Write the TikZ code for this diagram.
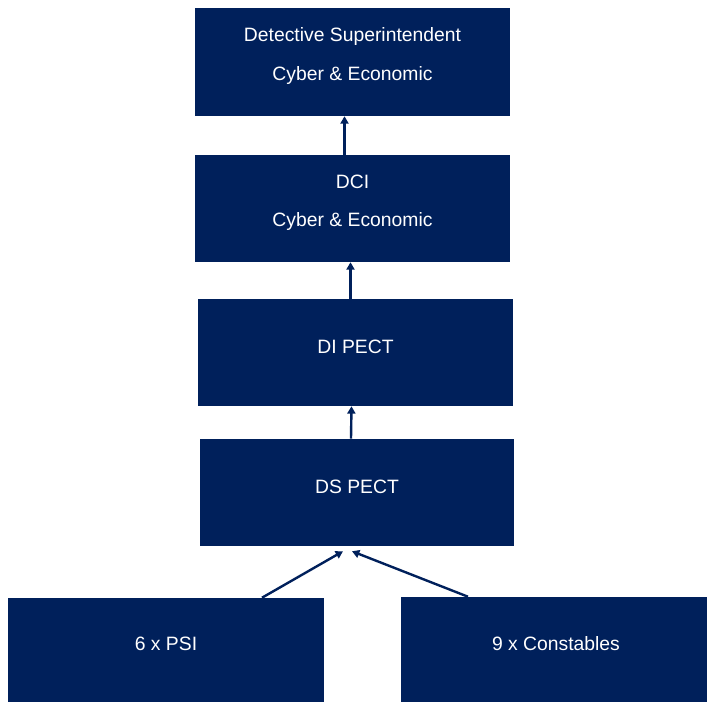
\documentclass[tikz,border=0pt]{standalone}
\usepackage{fontspec}
\setmainfont{Liberation Sans}
\usetikzlibrary{positioning}
\usetikzlibrary{calc}
\usetikzlibrary{arrows.meta}
\definecolor{navy}{RGB}{0,32,91}
\tikzset{
	x=0.75pt, y=-0.75pt,
	unit/.style={rectangle, fill=navy, inner sep=0pt, minimum width=236pt, minimum height=80.25pt},
	txt/.style={text=white, align=center, font=\fontsize{14.5}{28.9}\selectfont, yshift=4.4pt},
	up/.style={draw=navy, line width=1.8pt, -{Triangle[length=5.5pt,width=6pt]}}
}
\begin{document}
\begin{tikzpicture}
	\useasboundingbox (0,0) rectangle (707,702);

	\node[unit, minimum height=81pt, label={[txt]center:Detective Superintendent\\Cyber \& Economic}] (dsup) at (352.5, 62) {};
	\node[unit, label={[txt]center:DCI\\Cyber \& Economic}] (dci) at (352.5, 208.5) {};
	\node[unit, label={[txt]center:DI PECT}] (dipect) at (355.5, 352.5) {};
	\node[unit, minimum width=235.5pt, label={[txt]center:DS PECT}] (dspect) at (357, 492.5) {};
	\node[unit, minimum width=237pt, minimum height=78pt, label={[txt]center:6 x PSI}] (psi) at (166, 650) {};
	\node[unit, minimum width=229.5pt, minimum height=78.75pt, label={[txt,xshift=1.5pt]center:9 x Constables}] (cons) at (554, 649.5) {};

	\draw[up] ($(dci.north)+(-8,0)$) -- ($(dsup.south)+(-8,0)$);
	\draw[up] ($(dipect.north)+(-5,0)$) -- ($(dci.south)+(-2,0)$);
	\draw[up] ($(dspect.north)+(-6,0)$) -- ($(dipect.south)+(-4,0)$);
	\draw[up] ($(psi.north)+(96,0)$) -- ($(dspect.south)+(-14,5)$);
	\draw[up] ($(cons.north)+(-86,0)$) -- ($(dspect.south)+(-5,5)$);

\end{tikzpicture}
\end{document}
